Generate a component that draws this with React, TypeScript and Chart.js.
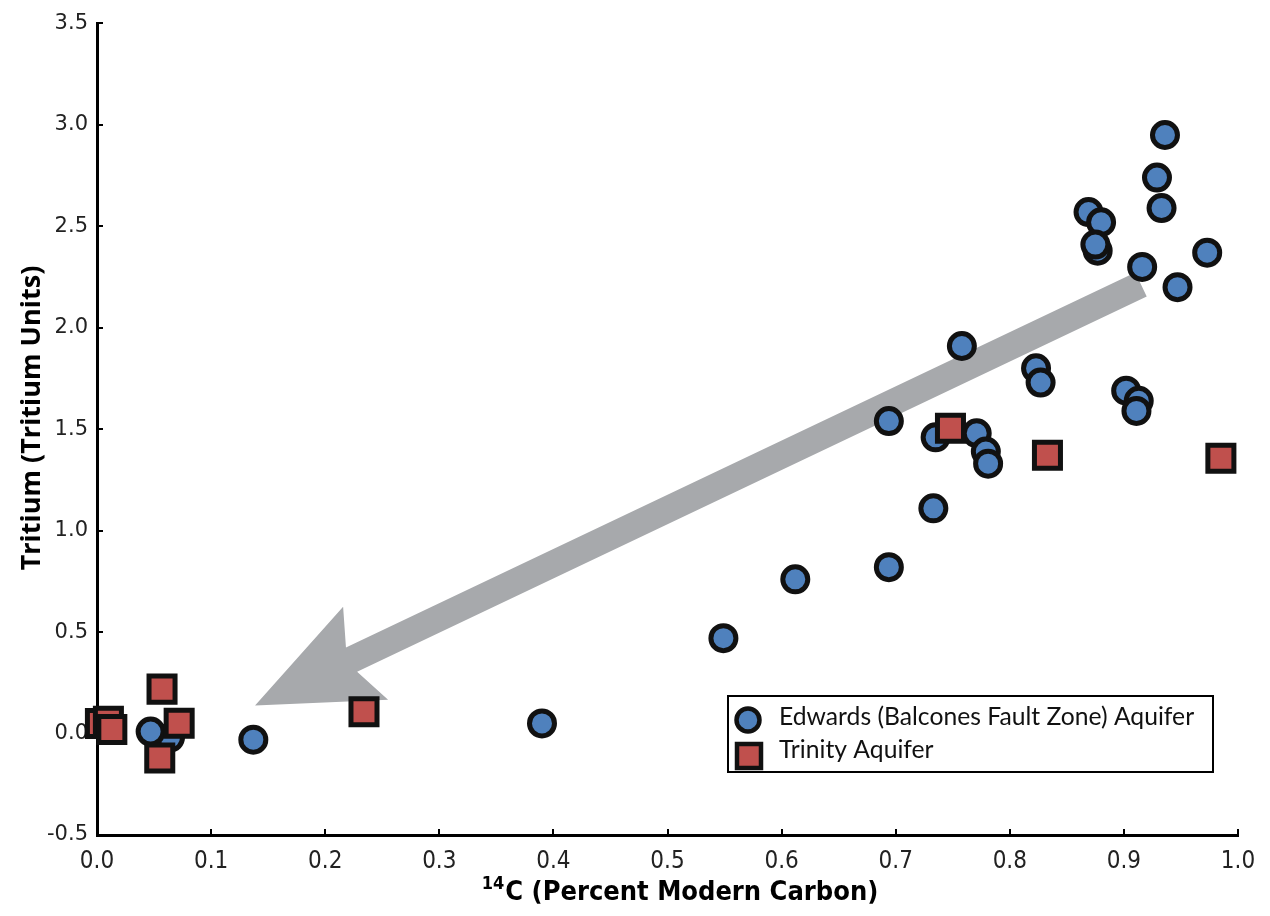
import React, { useEffect, useRef } from "react";
import { Chart, registerables } from "chart.js";

Chart.register(...registerables);

// ---- data ----
const edwardsX = [0.936, 0.929, 0.933, 0.869, 0.880, 0.877, 0.875, 0.916, 0.973, 0.947, 0.758, 0.823, 0.827, 0.902, 0.913, 0.911, 0.694, 0.735, 0.771, 0.779, 0.781, 0.733, 0.694, 0.612, 0.549, 0.390, 0.137, 0.064, 0.047];
const edwardsY = [2.95, 2.74, 2.59, 2.57, 2.52, 2.38, 2.41, 2.30, 2.37, 2.20, 1.91, 1.80, 1.73, 1.69, 1.64, 1.59, 1.54, 1.46, 1.48, 1.39, 1.33, 1.11, 0.82, 0.76, 0.47, 0.05, -0.03, -0.02, 0.01];
const trinityX = [0.748, 0.833, 0.985, 0.234, 0.057, 0.072, 0.055, 0.003, 0.010, 0.013];
const trinityY = [1.505, 1.372, 1.357, 0.108, 0.219, 0.051, -0.121, 0.05, 0.06, 0.02];
const xTicks = [0, 0.1, 0.2, 0.3, 0.4, 0.5, 0.6, 0.7, 0.8, 0.9, 1.0];
const yTicks = [-0.5, 0, 0.5, 1.0, 1.5, 2.0, 2.5, 3.0, 3.5];
const arrowTail = [0.915, 2.213];
const arrowTip = [0.1385, 0.138];
const seriesNames = ["Edwards (Balcones Fault Zone) Aquifer", "Trinity Aquifer"];
const yTitle = "Tritium (Tritium Units)";
const xTitleSup = "14";
const xTitleMain = "C (Percent Modern Carbon)";

const BLUE = "#4f81bd";
const RED = "#c0504d";
const EDGE = "#111111";
const GRAY = "#a7a9ac";
const NARROW = "'Liberation Sans Narrow', 'DejaVu Sans Condensed', sans-serif";

const arrowPlugin = {
  id: "arrowPlugin",
  beforeDatasetsDraw(chart: any) {
    const { ctx, scales } = chart;
    const x = scales.x, y = scales.y;
    const tx = x.getPixelForValue(arrowTip[0]);
    const ty = y.getPixelForValue(arrowTip[1]);
    const sx = x.getPixelForValue(arrowTail[0]);
    const sy = y.getPixelForValue(arrowTail[1]);
    const dx = sx - tx, dy = sy - ty;
    const L = Math.hypot(dx, dy);
    const ux = dx / L, uy = dy / L;
    const nx = -uy, ny = ux;
    const pts = [
      [0, 0],
      [122.7, 51.8],
      [106.7, 13.3],
      [L, 13.3],
      [L, -13.3],
      [107, -13.3],
      [122, -51.5],
    ];
    ctx.save();
    ctx.fillStyle = GRAY;
    ctx.beginPath();
    pts.forEach(([a, p], i) => {
      const px = tx + a * ux + p * nx;
      const py = ty + a * uy + p * ny;
      if (i === 0) ctx.moveTo(px, py);
      else ctx.lineTo(px, py);
    });
    ctx.closePath();
    ctx.fill();

    // inward tick marks
    ctx.strokeStyle = "#000";
    ctx.lineWidth = 2;
    const ca = chart.chartArea;
    xTicks.forEach((v) => {
      const px = Math.round(x.getPixelForValue(v));
      ctx.beginPath();
      ctx.moveTo(px, ca.bottom);
      ctx.lineTo(px, ca.bottom - 6);
      ctx.stroke();
    });
    yTicks.forEach((v) => {
      const py = Math.round(y.getPixelForValue(v));
      ctx.beginPath();
      ctx.moveTo(ca.left, py);
      ctx.lineTo(ca.left + 6, py);
      ctx.stroke();
    });
    ctx.restore();
  },
};

const decorPlugin = {
  id: "decorPlugin",
  afterDraw(chart: any) {
    const { ctx } = chart;
    ctx.save();
    // y title
    ctx.fillStyle = "#000";
    ctx.font = "bold 27px 'Open Sans', sans-serif";
    ctx.translate(40, 418);
    ctx.rotate(-Math.PI / 2);
    ctx.textAlign = "center";
    ctx.textBaseline = "alphabetic";
    ctx.fillText(yTitle, 0, 0);
    ctx.restore();

    // x title with superscript
    ctx.save();
    ctx.fillStyle = "#000";
    ctx.textBaseline = "alphabetic";
    ctx.textAlign = "left";
    const mainFont = `bold 27px ${NARROW}`;
    const supFont = `bold 18px ${NARROW}`;
    ctx.font = supFont;
    const wSup = ctx.measureText(xTitleSup).width;
    ctx.font = mainFont;
    const wMain = ctx.measureText(xTitleMain).width;
    const total = wSup + 1 + wMain;
    const cx = 680;
    const startX = cx - total / 2;
    ctx.font = supFont;
    ctx.fillText(xTitleSup, startX, 889);
    ctx.font = mainFont;
    ctx.fillText(xTitleMain, startX + wSup + 1, 900);
    ctx.restore();

    // legend
    ctx.save();
    ctx.strokeStyle = "#000";
    ctx.lineWidth = 2;
    ctx.fillStyle = "#fff";
    ctx.fillRect(728, 696, 485, 76);
    ctx.strokeRect(728, 696, 485, 76);
    // circle marker
    ctx.beginPath();
    ctx.arc(748, 720, 11.5, 0, Math.PI * 2);
    ctx.fillStyle = BLUE;
    ctx.fill();
    ctx.lineWidth = 4.5;
    ctx.strokeStyle = EDGE;
    ctx.stroke();
    // square marker
    ctx.beginPath();
    ctx.rect(737, 744, 24, 24);
    ctx.fillStyle = RED;
    ctx.fill();
    ctx.lineWidth = 4.5;
    ctx.strokeStyle = EDGE;
    ctx.stroke();
    ctx.fillStyle = "#111";
    ctx.font = "24.7px Lato, sans-serif";
    ctx.textAlign = "left";
    ctx.textBaseline = "alphabetic";
    ctx.fillText(seriesNames[0], 779, 725);
    ctx.fillText(seriesNames[1], 779, 758);
    ctx.restore();
  },
};

export default function App() {
  const ref = useRef<HTMLCanvasElement | null>(null);
  useEffect(() => {
    if (!ref.current) return;
    const chart = new Chart(ref.current, {
      type: "scatter",
      data: {
        datasets: [
          {
            label: seriesNames[0],
            data: edwardsX.map((v, i) => ({ x: v, y: edwardsY[i] })),
            backgroundColor: BLUE,
            borderColor: EDGE,
            borderWidth: 5,
            pointRadius: 12.5,
            pointHoverRadius: 12.5,
            pointStyle: "circle",
            order: 2,
            clip: false,
          },
          {
            label: seriesNames[1],
            data: trinityX.map((v, i) => ({ x: v, y: trinityY[i] })),
            backgroundColor: RED,
            borderColor: EDGE,
            borderWidth: 5,
            pointRadius: 18.4,
            pointHoverRadius: 18.4,
            pointStyle: "rect",
            order: 1,
            clip: false,
          },
        ],
      },
      options: {
        responsive: false,
        animation: false,
        events: [],
        layout: { padding: { left: 0, top: 22, right: 32, bottom: 0 } },
        plugins: {
          legend: { display: false },
          tooltip: { enabled: false },
          title: { display: false },
        },
        scales: {
          x: {
            type: "linear",
            min: 0,
            max: 1,
            afterFit: (s: any) => {
              s.height = 81;
            },
            afterBuildTicks: (s: any) => {
              s.ticks = xTicks.map((v) => ({ value: v }));
            },
            grid: { display: true, drawOnChartArea: false, drawTicks: false },
            border: { display: true, color: "#000", width: 3 },
            ticks: {
              padding: 12,
              color: "#222",
              font: { family: NARROW, size: 24 },
              callback: (v: any) => Number(v).toFixed(1),
              maxRotation: 0,
            },
          },
          y: {
            type: "linear",
            min: -0.5,
            max: 3.5,
            afterFit: (s: any) => {
              s.width = 97;
            },
            afterBuildTicks: (s: any) => {
              s.ticks = yTicks.map((v) => ({ value: v }));
            },
            grid: { display: true, drawOnChartArea: false, drawTicks: false },
            border: { display: true, color: "#000", width: 3 },
            ticks: {
              padding: 9,
              color: "#222",
              font: { family: "'DejaVu Sans', sans-serif", size: 21 },
              callback: (v: any) => Number(v).toFixed(1),
            },
          },
        },
      },
      plugins: [arrowPlugin, decorPlugin],
    });
    return () => chart.destroy();
  }, []);
  return (
    <div style={{ position: "absolute", left: 0, top: 0, width: 1270, height: 916, background: "#fff" }}>
      <canvas ref={ref} width={1270} height={916} style={{ display: "block" }} />
    </div>
  );
}
